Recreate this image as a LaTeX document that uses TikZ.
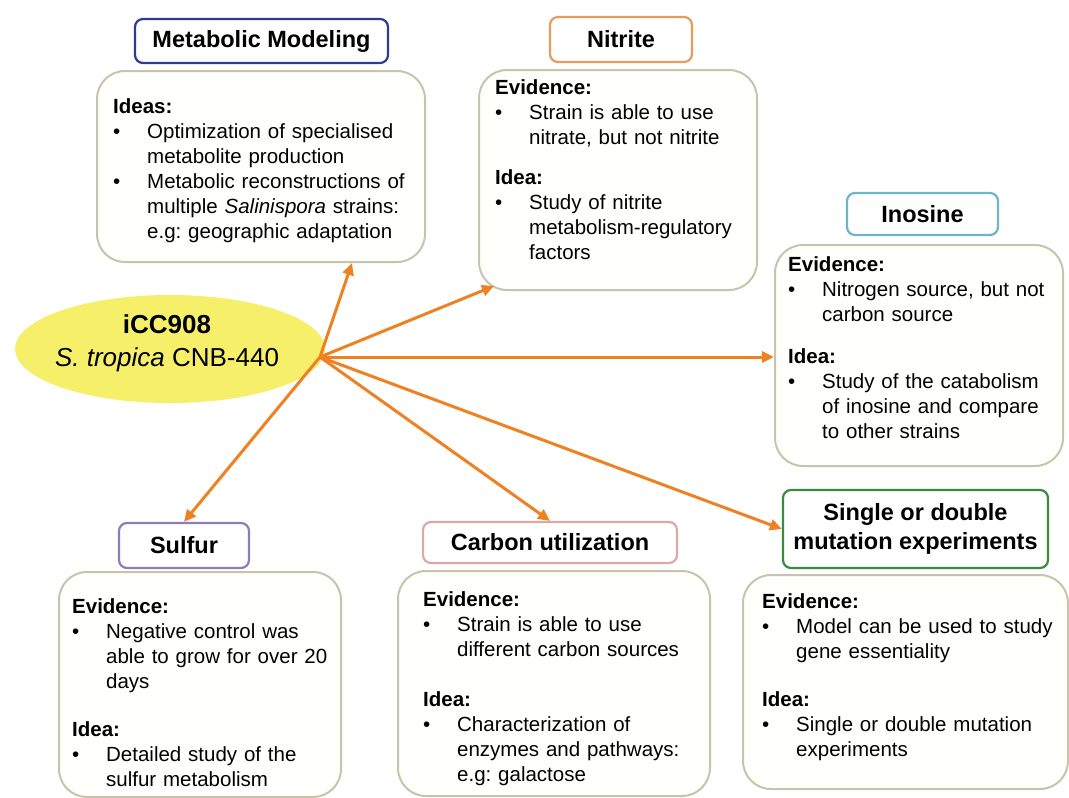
\documentclass[tikz,border=0pt]{standalone}
\usepackage{fontspec}
\setmainfont{Liberation Sans}
\usepackage{xcolor}
\usetikzlibrary{arrows.meta,calc,shapes.geometric}

\definecolor{hubyellow}{HTML}{F6EF6A}
\definecolor{arroworange}{HTML}{EE8122}
\definecolor{boxline}{HTML}{C9C3AE}
\definecolor{boxfill}{HTML}{FFFFFB}
\definecolor{mmblue}{HTML}{2F3B8F}
\definecolor{niorange}{HTML}{E89B5C}
\definecolor{inoblue}{HTML}{6DB5CA}
\definecolor{sulpurple}{HTML}{8C7DBA}
\definecolor{carpink}{HTML}{DDA8A8}
\definecolor{sdgreen}{HTML}{3B8A3E}

\setlength{\parskip}{0pt}
\frenchspacing
\newcommand{\boxhead}[1]{\noindent\textbf{#1}\par}
\newcommand{\boxitem}[1]{\hangindent=34pt\hangafter=1\noindent\makebox[34pt][l]{\textbullet}#1\par}
\newcommand{\boxgap}[1]{\vspace{#1pt}}

\begin{document}
\begin{tikzpicture}[x=1pt, y=-1pt,
    titlebox/.style={draw, line width=2.2pt, rounded corners=8pt, fill=white, inner sep=0pt,
        align=center, font=\fontsize{23.5}{29}\selectfont\bfseries},
    infobox/.style={draw=boxline, line width=2pt, rounded corners=28pt, fill=boxfill},
    bodytext/.style={anchor=north west, inner sep=0pt, text width=330pt, align=left,
        font=\fontsize{20.5}{25}\selectfont},
    link/.style={draw=arroworange, line width=3pt, -{Triangle[length=12pt,width=11pt]}}]
    \useasboundingbox (0,0) rectangle (1069,798);

    % centre
    \node[ellipse, fill=hubyellow, minimum width=310, minimum height=108, inner sep=0pt] (hub) at (170,349) {};
    \node[align=center, font=\fontsize{26}{33}\selectfont] (hubtext) at (167,343) {\textbf{iCC908}\\\textit{S. tropica} CNB-440};
    \coordinate (src) at (320,357);

    % boxes
    \node[infobox, minimum width=328, minimum height=191] (mmbox) at (261,166.5) {};
    \node[titlebox, draw=mmblue, minimum width=253, minimum height=44] (mmtitle) at (261.5,41) {Metabolic Modeling};
    \node[bodytext] (mmtext) at (113,98.5) {%
        \boxhead{Ideas:}
        \boxitem{Optimization of specialised\newline metabolite production}
        \boxitem{Metabolic reconstructions of\newline multiple \textit{Salinispora} strains:\newline e.g: geographic adaptation}};

    \node[infobox, minimum width=278, minimum height=220] (nibox) at (618,180) {};
    \node[titlebox, draw=niorange, minimum width=142, minimum height=45] (nititle) at (621,39.5) {Nitrite};
    \node[bodytext] (nitext) at (495,79.5) {%
        \boxhead{Evidence:}
        \boxitem{Strain is able to use\newline nitrate, but not nitrite}
        \boxgap{15}
        \boxhead{Idea:}
        \boxitem{Study of nitrite\newline metabolism-regulatory\newline factors}};

    \node[infobox, minimum width=288, minimum height=221] (inobox) at (919,355.5) {};
    \node[titlebox, draw=inoblue, minimum width=151, minimum height=42] (inotitle) at (922.5,214) {Inosine};
    \node[bodytext] (inotext) at (788,256.5) {%
        \boxhead{Evidence:}
        \boxitem{Nitrogen source, but not\newline carbon source}
        \boxgap{17}
        \boxhead{Idea:}
        \boxitem{Study of the catabolism\newline of inosine and compare\newline to other strains}};

    \node[infobox, minimum width=282, minimum height=225] (sulbox) at (200,684.5) {};
    \node[titlebox, draw=sulpurple, minimum width=130, minimum height=45] (sultitle) at (184,545.5) {Sulfur};
    \node[bodytext] (sultext) at (72,598.5) {%
        \boxhead{Evidence:}
        \boxitem{Negative control was\newline able to grow for over 20\newline days}
        \boxgap{23}
        \boxhead{Idea:}
        \boxitem{Detailed study of the\newline sulfur metabolism}};

    \node[infobox, minimum width=312, minimum height=225] (carbox) at (554,683.5) {};
    \node[titlebox, draw=carpink, minimum width=254, minimum height=41] (cartitle) at (550,542.5) {Carbon utilization};
    \node[bodytext] (cartext) at (423,591.5) {%
        \boxhead{Evidence:}
        \boxitem{Strain is able to use\newline different carbon sources}
        \boxgap{25}
        \boxhead{Idea:}
        \boxitem{Characterization of\newline enzymes and pathways:\newline e.g: galactose}};

    \node[infobox, minimum width=325, minimum height=214] (sdbox) at (905.5,682) {};
    \node[titlebox, draw=sdgreen, minimum width=265, minimum height=78] (sdtitle) at (915.5,529) {Single or double\\mutation experiments};
    \node[bodytext] (sdtext) at (762,593.5) {%
        \boxhead{Evidence:}
        \boxitem{Model can be used to study\newline gene essentiality}
        \boxgap{23}
        \boxhead{Idea:}
        \boxitem{Single or double mutation\newline experiments}};

    % arrows
    \draw[link] (src) -- ($(mmbox.south)+(91,0)$);
    \draw[link] (src) -- ($(nibox.south west)+(16,-5)$);
    \draw[link] (src) -- (inobox.west |- src);
    \draw[link] (src) -- (sdtitle.west);
    \draw[link] (src) -- (cartitle.north);
    \draw[link] (src) -- (sultitle.north);
\end{tikzpicture}
\end{document}
